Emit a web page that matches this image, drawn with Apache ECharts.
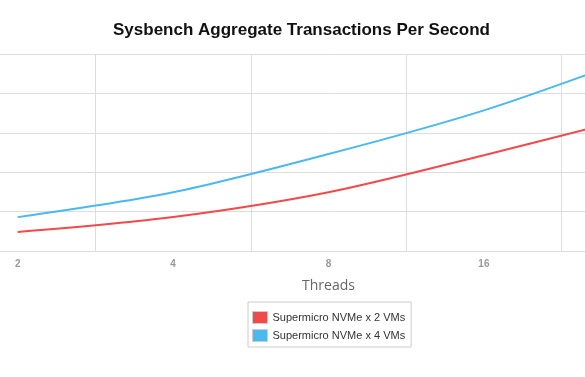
<!DOCTYPE html>
<html>
<head>
<meta charset="utf-8">
<script src="https://cdn.jsdelivr.net/npm/echarts@6/dist/echarts.min.js"></script>
<style>
  html, body { margin: 0; padding: 0; background: #fff; overflow: hidden; }
  /* plot is wider than the window: the original is cropped on both sides */
  #chart { position: absolute; left: -60px; top: 0; width: 777px; height: 377px; }
</style>
</head>
<body>
<div id="chart"></div>
<script>
  // threads tested
  var threads = ['2', '4', '8', '16', '32'];
  // transactions per second
  var nvme2 = [480, 860, 1490, 2430, 3430];
  var nvme4 = [860, 1490, 2460, 3570, 4960];
  var seriesNames = ['Supermicro NVMe x 2 VMs', 'Supermicro NVMe x 4 VMs'];

  var myChart = echarts.init(document.getElementById('chart'));
  var option = {
    color: ['#f04a4a', '#4bb8ee'],
    title: {
      text: 'Sysbench Aggregate Transactions Per Second',
      left: 173,
      top: 22,
      padding: 0,
      textStyle: {
        color: '#111',
        fontSize: 17,
        fontWeight: 'bold',
        fontFamily: 'Liberation Sans, Arial, sans-serif'
      }
    },
    legend: {
      orient: 'vertical',
      left: 308,
      top: 302,
      padding: [9, 6, 5, 4],
      itemWidth: 15,
      itemHeight: 12,
      itemGap: 5,
      borderColor: '#ccc',
      borderWidth: 1,
      icon: 'rect',
      itemStyle: { borderColor: '#ccc', borderWidth: 1 },
      textStyle: {
        color: '#333',
        fontSize: 11,
        fontFamily: 'Liberation Sans, Arial, sans-serif'
      },
      data: seriesNames
    },
    grid: {
      left: 0,
      right: 0,
      top: 54,
      bottom: 126
    },
    xAxis: {
      type: 'category',
      data: threads,
      boundaryGap: true,
      name: 'Threads',
      nameLocation: 'middle',
      nameGap: 28,
      nameTextStyle: {
        color: '#666',
        fontSize: 14,
        fontFamily: 'Open Sans, sans-serif'
      },
      axisLine: { lineStyle: { color: '#ddd' } },
      axisTick: { show: false },
      axisLabel: {
        color: '#999',
        fontSize: 10,
        fontWeight: 'bold',
        margin: 8,
        fontFamily: 'Liberation Sans, Arial, sans-serif'
      },
      splitLine: { show: true, lineStyle: { color: '#ddd' } }
    },
    yAxis: {
      type: 'value',
      min: 0,
      max: 5000,
      interval: 1000,
      axisLabel: { show: false },
      axisLine: { show: false },
      axisTick: { show: false },
      splitLine: { lineStyle: { color: '#ddd' } }
    },
    series: [{
      name: seriesNames[0],
      type: 'line',
      data: nvme2,
      smooth: 0.3,
      symbol: 'none',
      lineStyle: { width: 2 }
    }, {
      name: seriesNames[1],
      type: 'line',
      data: nvme4,
      smooth: 0.3,
      symbol: 'none',
      lineStyle: { width: 2 }
    }]
  };
  myChart.setOption(option);
</script>
</body>
</html>
